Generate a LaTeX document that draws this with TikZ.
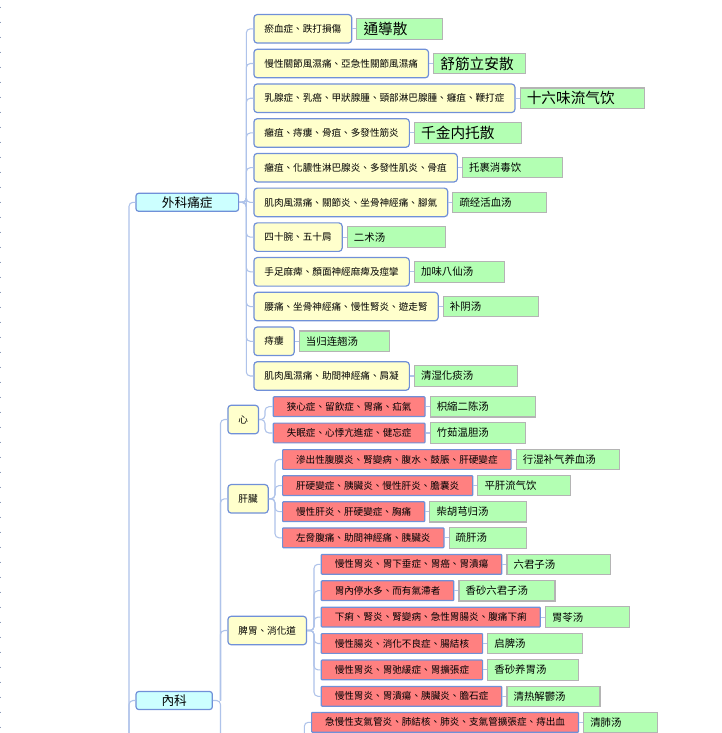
\documentclass[tikz,border=0pt]{standalone}
\usepackage{fontspec}
\newfontfamily\cjk{Noto Sans CJK TC}
\usetikzlibrary{positioning}
\definecolor{symyellow}{HTML}{FFFFCC}
\definecolor{sickred}{HTML}{FF8080}
\definecolor{medgreen}{HTML}{B3FFB3}
\definecolor{topcyan}{HTML}{CCFFFF}
\definecolor{boxblue}{HTML}{7090D8}
\definecolor{medgray}{HTML}{B4B4B4}
\definecolor{linkblue}{HTML}{AFC3EA}

\tikzset{
  link/.style={draw=linkblue, line width=0.8pt, rounded corners=3pt},
  topic/.style={draw=boxblue, fill=topcyan, line width=0.9pt, rounded corners=2pt,
    inner sep=0pt, minimum height=13.5pt, font=\cjk\fontsize{9.5}{10}\selectfont},
  sym/.style={draw=boxblue, fill=symyellow, line width=0.9pt, rounded corners=2.5pt,
    inner xsep=7.9pt, inner ysep=0pt, minimum height=21.4pt, anchor=west,
    font=\cjk\fontsize{7.2}{8}\selectfont},
  sick/.style={draw=boxblue, fill=sickred, line width=0.9pt, rounded corners=0.6pt,
    inner xsep=10.1pt, inner ysep=0pt, minimum height=14.8pt, anchor=west,
    font=\cjk\fontsize{7.2}{8}\selectfont},
  med/.style={draw=medgray, fill=medgreen, line width=0.8pt, inner xsep=5pt,
    inner ysep=0pt, minimum height=15.4pt, align=left},
}

\begin{document}
\begin{tikzpicture}[x=0.75pt,y=-0.75pt]
  \path[use as bounding box, clip] (0,0) rectangle (722,733);
  \fill[white] (0,0) rectangle (722,733);
  \draw[linkblue!80!black, line width=0.8pt, dash pattern=on 0.8pt off 10.45pt] (0.5,6.5) -- (0.5,733);

  % main topics
  \node[topic, minimum width=77pt] (wk) at (187.3,202.3) {外科痛症};
  \node[topic, minimum width=57.2pt] (nk) at (174.2,700.5) {內科};
  \coordinate (trunk) at (129,760);
  \draw[link] (wk.west) -| (trunk);
  \draw[link] (nk.west) -| (trunk);

  % surgery
  \coordinate (wkbus) at (246.3,202.3);
  \foreach \i/\txt/\fml/\w/\fs in {
      1/瘀血症、跌打損傷/通導散/85.6/11,
      2/慢性關節風濕痛、亞急性關節風濕痛/舒筋立安散/92/11,
      3/乳腺症、乳癌、甲狀腺腫、頸部淋巴腺腫、癰疽、鞭打症/十六味流气饮/124/11,
      4/癰疽、痔瘻、骨疽、多發性筋炎/千金内托散/107.3/11,
      5/癰疽、化膿性淋巴腺炎、多發性肌炎、骨疽/托裹消毒饮/100/7.8,
      6/肌肉風濕痛、關節炎、坐骨神經痛、腳氣/疏经活血汤/93.7/7.8,
      7/四十腕、五十肩/二术汤/97.7/7.8,
      8/手足麻痺、顏面神經麻痺及痙攣/加味八仙汤/90/7.8,
      9/腰痛、坐骨神經痛、慢性腎炎、遊走腎/补阴汤/95.4/7.8,
      10/痔瘻/当归连翘汤/90.4/7.8,
      11/肌肉風濕痛、助間神經痛、肩凝/清湿化痰汤/103.3/7.8}{
    \pgfmathsetmacro{\y}{28.8+34.72*(\i-1)}
    \pgfmathsetlengthmacro{\tw}{(\w-13.3)*0.75pt}
    \node[sym] (s\i) at (253.3,\y) {\txt};
    \node[med, right=3pt of s\i, text width=\tw, font=\cjk\fontsize{\fs}{\fs}\selectfont] (f\i) {\fml};
    \draw[link] (s\i.east) -- (f\i.west);
    \draw[link] (wk.east) -- (wkbus) |- (s\i.west);
  }

  % internal medicine
  \node[sym] (xin) at (227.3,419.5) {心};
  \node[sym] (gan) at (227.3,498.8) {肝臟};
  \node[sym] (pi) at (227.3,630.5) {脾胃、消化道};
  \coordinate (nkbus) at (220.5,700.5);
  \coordinate (nkdown) at (220.5,760);
  \draw[link] (nk.east) -- (nkbus) -- (nkdown);
  \foreach \g in {xin,gan,pi}{
    \draw[link] (nkbus) |- (\g.west);
  }

  \coordinate (xinbus) at (265,419.5);
  \foreach \i/\txt/\fml/\w in {
      1/狭心症、留飲症、胃痛、疝氣/枳縮二陈汤/105,
      2/失眠症、心悸亢進症、健忘症/竹茹温胆汤/95.7}{
    \pgfmathsetmacro{\y}{406.7+26.3*(\i-1)}
    \pgfmathsetlengthmacro{\tw}{(\w-13.3)*0.75pt}
    \node[sick] (x\i) at (272.7,\y) {\txt};
    \node[med, right=3pt of x\i, text width=\tw, font=\cjk\fontsize{7.8}{8}\selectfont] (xf\i) {\fml};
    \draw[link] (x\i.east) -- (xf\i.west);
    \draw[link] (xin.east) -- (xinbus) |- (x\i.west);
  }

  \coordinate (ganbus) at (275,498.8);
  \foreach \i/\txt/\fml/\w in {
      1/滲出性腹膜炎、腎變病、腹水、鼓脹、肝硬變症/行湿补气养血汤/103,
      2/肝硬變症、胰臟炎、慢性肝炎、膽囊炎/平肝流气饮/92.6,
      3/慢性肝炎、肝硬變症、胸痛/柴胡芎归汤/96.7,
      4/左脅腹痛、助間神經痛、胰臟炎/疏肝汤/77.7}{
    \pgfmathsetmacro{\y}{459.5+26.1*(\i-1)}
    \pgfmathsetlengthmacro{\tw}{(\w-13.3)*0.75pt}
    \node[sick] (g\i) at (282,\y) {\txt};
    \node[med, right=3pt of g\i, text width=\tw, font=\cjk\fontsize{7.8}{8}\selectfont] (gf\i) {\fml};
    \draw[link] (g\i.east) -- (gf\i.west);
    \draw[link] (gan.east) -- (ganbus) |- (g\i.west);
  }

  \coordinate (pibus) at (314,630.5);
  \foreach \i/\txt/\fml/\w in {
      1/慢性胃炎、胃下垂症、胃癌、胃潰瘍/六君子汤/103.6,
      2/胃內停水多、而有氣滯者/香砂六君子汤/96,
      3/下痢、腎炎、腎變病、急性胃腸炎、腹痛下痢/胃苓汤/84,
      4/慢性腸炎、消化不良症、腸結核/启脾汤/94.4,
      5/慢性胃炎、胃弛緩症、胃擴張症/香砂养胃汤/91,
      6/慢性胃炎、胃潰瘍、胰臟炎、膽石症/清热解鬱汤/93}{
    \pgfmathsetmacro{\y}{564.3+26.4*(\i-1)}
    \pgfmathsetlengthmacro{\tw}{(\w-13.3)*0.75pt}
    \node[sick] (p\i) at (320.7,\y) {\txt};
    \node[med, right=3pt of p\i, text width=\tw, font=\cjk\fontsize{7.8}{8}\selectfont] (pf\i) {\fml};
    \draw[link] (p\i.east) -- (pf\i.west);
    \draw[link] (pi.east) -- (pibus) |- (p\i.west);
  }

  \coordinate (feibus) at (304.3,760);
  \node[sick] (fei) at (311,722.3) {急慢性支氣管炎、肺結核、肺炎、支氣管擴張症、痔出血};
  \node[med, right=3pt of fei, text width=45.5pt, font=\cjk\fontsize{7.8}{8}\selectfont] (feif) {清肺汤};
  \draw[link] (fei.east) -- (feif.west);
  \draw[link] (feibus) |- (fei.west);
\end{tikzpicture}
\end{document}
